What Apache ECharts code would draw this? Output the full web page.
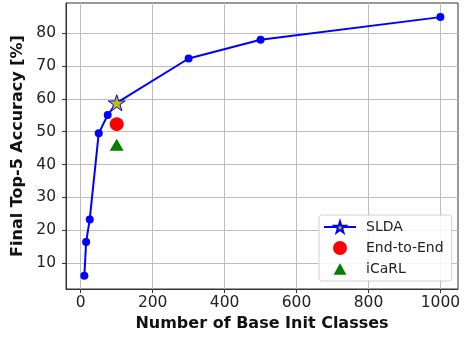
<!DOCTYPE html>
<html>
<head>
<meta charset="utf-8">
<script src="https://cdn.jsdelivr.net/npm/echarts@6/dist/echarts.min.js"></script>
<style>html,body{margin:0;padding:0;background:#fff}#c{width:466px;height:337px}</style>
</head>
<body>
<div id="c"></div>
<script>
const baseClasses = [10, 15, 25, 50, 75, 100, 300, 500, 1000];
const sldaAcc = [6.1, 16.4, 23.3, 49.5, 55.1, 58.8, 72.3, 78.0, 84.9];
const endToEnd = [[100, 52.3]];
const icarl = [[100, 46.0]];
const xTicks = [0, 200, 400, 600, 800, 1000];
const yTicks = [10, 20, 30, 40, 50, 60, 70, 80];

const STAR = 'path://M0,-1L0.2245,-0.309L0.9511,-0.309L0.3633,0.118L0.5878,0.809L0,0.382L-0.5878,0.809L-0.3633,0.118L-0.9511,-0.309L-0.2245,-0.309Z';
const TRI_ICON = 'path://M0,-1L1.1,1L-1.1,1ZM-1.25,-1.2L-1.25,-1.2M1.25,1.2L1.25,1.2';
const FONT = 'DejaVu Sans';

const sldaData = baseClasses.map((x, i) => {
  if (x === 100) return { value: [x, sldaAcc[i]] };
  return { value: [x, sldaAcc[i]], symbol: 'circle', symbolSize: 8, itemStyle: { color: '#0000ff', borderWidth: 0 } };
});

const chart = echarts.init(document.getElementById('c'), null, { renderer: 'canvas' });
chart.setOption({
  animation: false,
  textStyle: { fontFamily: FONT },
  grid: { left: 66, right: 8, top: 3, bottom: 48, show: true, borderColor: '#333', borderWidth: 1, backgroundColor: 'transparent' },
  xAxis: {
    type: 'value', min: -41, max: 1049,
    name: 'Number of Base Init Classes', nameLocation: 'middle', nameGap: 26,
    nameTextStyle: { fontFamily: FONT, fontSize: 16, fontWeight: 'bold', color: '#111' },
    axisLine: { show: true, onZero: false, lineStyle: { color: '#333', width: 1 } },
    axisTick: { show: true, inside: false, length: 4, customValues: xTicks, lineStyle: { color: '#333' } },
    axisLabel: { customValues: xTicks, formatter: v => String(v), fontFamily: FONT, fontSize: 15.5, color: '#222', margin: 6 },
    splitLine: { show: true, lineStyle: { color: '#bdbdbd', width: 1 } }
  },
  yAxis: {
    type: 'value', min: 2.1, max: 89.2,
    name: 'Final Top-5 Accuracy [%]', nameLocation: 'middle', nameGap: 35,
    nameTextStyle: { fontFamily: FONT, fontSize: 16, fontWeight: 'bold', color: '#111' },
    axisLine: { show: true, onZero: false, lineStyle: { color: '#333', width: 1 } },
    axisTick: { show: true, inside: false, length: 4, customValues: yTicks, lineStyle: { color: '#333' } },
    axisLabel: { customValues: yTicks, formatter: v => String(v), fontFamily: FONT, fontSize: 15.5, color: '#222', margin: 10 },
    splitLine: { show: true, lineStyle: { color: '#bdbdbd', width: 1 } }
  },
  legend: {
    orient: 'vertical', left: 319, top: 215,
    padding: [5, 8, 5, 4], itemGap: 7, itemWidth: 32, itemHeight: 14,
    backgroundColor: 'rgba(255,255,255,0.85)', borderColor: '#d0d0d0', borderWidth: 1, borderRadius: 3,
    textStyle: { fontFamily: FONT, fontSize: 14, color: '#222', padding: [0, 0, 0, 5] },
    data: ['SLDA', 'End-to-End', { name: 'iCaRL', icon: TRI_ICON }]
  },
  series: [
    {
      name: 'SLDA', type: 'line', data: sldaData,
      symbol: STAR, symbolSize: 17, symbolKeepAspect: true,
      itemStyle: { color: '#bfbf00', borderColor: '#0000ff', borderWidth: 1 },
      lineStyle: { color: '#0000ff', width: 2 },
      z: 3
    },
    {
      name: 'End-to-End', type: 'scatter', data: endToEnd,
      symbol: 'circle', symbolSize: 14,
      itemStyle: { color: '#ff0000', opacity: 1 }, z: 4
    },
    {
      name: 'iCaRL', type: 'scatter', data: icarl,
      symbol: 'triangle', symbolSize: [14, 12],
      itemStyle: { color: '#008000', opacity: 1 }, z: 4
    }
  ]
});
</script>
</body>
</html>
